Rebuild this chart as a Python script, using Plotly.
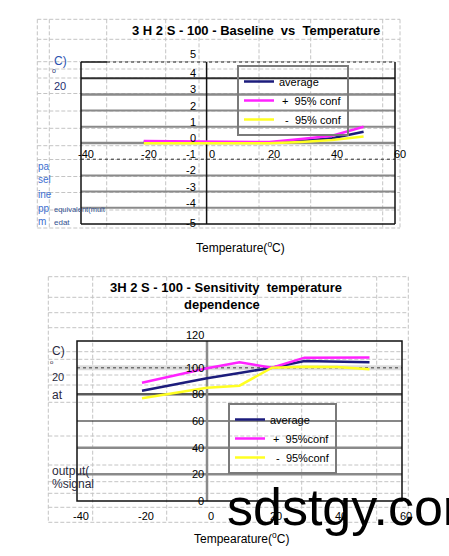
import plotly.graph_objects as go

W, H = 449, 556

# ---------------- data ----------------
temps_baseline = [-20, 0, 10, 20, 30, 40, 50]
baseline_avg = [0.08, 0.03, 0.02, 0.03, 0.12, 0.30, 0.70]
baseline_plus = [0.12, 0.08, 0.06, 0.06, 0.25, 0.45, 1.00]
baseline_minus = [-0.02, -0.03, -0.03, -0.02, 0.06, 0.18, 0.40]

temps_sens = [-20, 0, 10, 20, 30, 40, 50]
sens_avg = [82.7, 92.0, 96.0, 100.0, 105.0, 104.5, 104.0]
sens_plus = [88.7, 99.5, 104.0, 100.0, 107.5, 107.5, 107.7]
sens_minus = [77.0, 85.0, 86.5, 100.0, 100.7, 100.5, 98.8]

x_ticks = [-40, -20, 0, 20, 40, 60]
x_tick_labels = ["-40", "-20", "0", "20", "40", "60"]
baseline_ticks = [-5, -4, -3, -2, -1, 0, 1, 2, 3, 4, 5]
baseline_tick_labels = ["-5", "-4", "-3", "-2", "-1", "0", "1", "2", "3", "4", "5"]
sens_ticks = [0, 20, 40, 60, 80, 100, 120]
sens_tick_labels = ["0", "20", "40", "60", "80", "100", "120"]

series_names = ["average",
                "\u00a0+\u00a0\u00a095% conf",
                "\u00a0\u00a0-\u00a0\u00a095% conf"]
series_names2 = ["average",
                 "\u00a0+\u00a0\u00a095%conf",
                 "\u00a0\u00a0-\u00a0\u00a095%conf"]

title_top = "3 H 2 S - 100 - Baseline  vs  Temperature"
title_bot1 = "3H 2 S - 100 - Sensitivity  temperature"
title_bot2 = "dependence"
xtitle_top = "Temperature(<sup>o</sup>C)"
xtitle_bot = "Tempearature(<sup>o</sup>C)"

# ---------------- helpers ----------------
FONT = "Liberation Sans, Arial, sans-serif"
COLORS = ["#1c1c7c", "#ff22ff", "#ffff22"]


def px(x):
    return x / W


def py(y):
    return 1 - y / H


fig = go.Figure()

for name, ys, col in zip(series_names, [baseline_avg, baseline_plus, baseline_minus], COLORS):
    fig.add_trace(go.Scatter(x=temps_baseline, y=ys, name=name, mode="lines",
                             line=dict(color=col, width=2.5),
                             xaxis="x", yaxis="y", legend="legend"))

for name, ys, col in zip(series_names2, [sens_avg, sens_plus, sens_minus], COLORS):
    fig.add_trace(go.Scatter(x=temps_sens, y=ys, name=name, mode="lines",
                             line=dict(color=col, width=2.5),
                             xaxis="x2", yaxis="y2", legend="legend2"))

shapes = []

# spreadsheet dashed cell grid (background)
GRIDC = "#c4c4c4"
DASH = "4px,2px"
top_cols = [37.3, 49.3, 106.7, 165.7, 199, 259, 310.7, 382.7, 400]
top_rows = [19.3, 39.3, 61.7, 69, 78, 93.5, 111, 128.3, 145.7, 159.5, 176.5, 192.5, 210, 228]
bot_cols = [48.3, 92.7, 166.7, 257.3, 301.7, 376.7, 408.3]
bot_rows = [276.7, 297.3, 312.7, 327.7, 351.7, 359.3, 375, 385, 402.3, 436, 465, 481.7,
            493.3, 507.3, 522.3]


def cells(cols, rows):
    for cx in cols:
        shapes.append(dict(type="line", xref="paper", yref="paper", layer="below",
                           x0=px(cx), x1=px(cx), y0=py(rows[0]), y1=py(rows[-1]),
                           line=dict(color=GRIDC, width=1, dash=DASH)))
    for ry in rows:
        shapes.append(dict(type="line", xref="paper", yref="paper", layer="below",
                           x0=px(cols[0]), x1=px(cols[-1]), y0=py(ry), y1=py(ry),
                           line=dict(color=GRIDC, width=1, dash=DASH)))


cells(top_cols, top_rows)
cells(bot_cols, bot_rows)


def hline(ax, v, color, width, dash="solid"):
    shapes.append(dict(type="line", xref=f"{ax[0]} domain", yref=ax[1], layer="below",
                       x0=0, x1=1, y0=v, y1=v,
                       line=dict(color=color, width=width, dash=dash)))


def vline(ax, v, color, width, dash="solid"):
    shapes.append(dict(type="line", xref=ax[0], yref=f"{ax[1]} domain", layer="below",
                       x0=v, x1=v, y0=0, y1=1,
                       line=dict(color=color, width=width, dash=dash)))


GRAY = "#8a8a8a"
# top chart gridlines
top_style = {4: ("#303030", 2, "solid"), 3: (GRAY, 2.5, "solid"), 2: (GRAY, 2, "solid"),
             1: (GRAY, 2, "solid"), 0: (GRAY, 2.5, "solid"), -1: ("#303030", 1, "dot"),
             -2: (GRAY, 2, "solid"), -3: (GRAY, 2, "solid"), -4: (GRAY, 2, "solid")}
for v in baseline_ticks:
    if v in top_style:
        c, w, d = top_style[v]
        hline(("x", "y"), v, c, w, d)
vline(("x", "y"), 0, "#111111", 1.5)
# top chart frame
for (x0, y0, x1, y1, d) in [(0, 0, 0, 1, "solid"), (0, 0, 1, 0, "solid"), (1, 0, 1, 1, "solid"),
                             (0, 1, 0.083, 1, "solid"), (0.083, 1, 1, 1, "dot")]:
    shapes.append(dict(type="line", xref="x domain", yref="y domain", layer="below",
                       x0=x0, x1=x1, y0=y0, y1=y1,
                       line=dict(color="#111111", width=1.5 if d == "solid" else 1, dash=d)))

# bottom chart gridlines
hline(("x2", "y2"), 100, "#dcdcdc", 5)
hline(("x2", "y2"), 100, "#707070", 1.5, "dot")
bot_style = {80: ("#5a5a5a", 2.5, "solid"), 60: ("#111111", 1.2, "solid"),
             40: (GRAY, 2.5, "solid"), 20: (GRAY, 2.5, "solid")}
for v in sens_ticks:
    if v in bot_style:
        c, w, d = bot_style[v]
        hline(("x2", "y2"), v, c, w, d)
vline(("x2", "y2"), 0, GRAY, 2.5)
shapes.append(dict(type="rect", xref="x2 domain", yref="y2 domain", layer="below",
                   x0=0, x1=1, y0=0, y1=1, line=dict(color="#111111", width=1.5)))

# ---------------- annotations ----------------
ann = []


def text(t, x, y, size=12, color="#000000", bold=False, xanchor="left", family=FONT):
    ann.append(dict(text=f"<b>{t}</b>" if bold else t, x=px(x), y=py(y), xref="paper",
                    yref="paper", xanchor=xanchor, yanchor="middle", showarrow=False,
                    font=dict(family=family, size=size, color=color)))


TICKFONT = dict(family=FONT, size=11, color="#000000")

# tick labels placed on the crossing axes (Excel style)
for v, lab in zip(baseline_ticks, baseline_tick_labels):
    shift = 8 if v == max(baseline_ticks) else (1 if v == min(baseline_ticks) else 5)
    ann.append(dict(text=lab, xref="paper", x=px(198), yref="y", y=v, xanchor="right",
                    yanchor="middle", yshift=shift, showarrow=False, font=TICKFONT))
for v, lab in zip(x_ticks, x_tick_labels):
    ann.append(dict(text=lab, xref="x", x=v, yref="paper", y=py(154), xanchor="center",
                    yanchor="middle", xshift=5, showarrow=False, font=TICKFONT))
for v, lab in zip(sens_ticks, sens_tick_labels):
    shift = 6 if v == max(sens_ticks) else 0
    ann.append(dict(text=lab, xref="paper", x=px(206), yref="y2", y=v, xanchor="right",
                    yanchor="middle", yshift=shift, showarrow=False, font=TICKFONT))
for v, lab in zip(x_ticks, x_tick_labels):
    ann.append(dict(text=lab, xref="x2", x=v, yref="paper", y=py(516), xanchor="center",
                    yanchor="middle", xshift=4, showarrow=False, font=TICKFONT))

text(title_top, 255.5, 30.7, 13, bold=True, xanchor="center")
text(title_bot1, 226, 287.3, 13, bold=True, xanchor="center")
text(title_bot2, 222, 304.3, 13, bold=True, xanchor="center")
text(xtitle_top, 240.5, 246.5, 12, xanchor="center")
text(xtitle_bot, 241.7, 537.5, 12, xanchor="center")

# stray spreadsheet cell fragments (top)
BLUE = "#2a52b0"
NAVY = "#1f2f70"
text("C)", 52, 61.5, 12, BLUE)
text("o", 49.5, 71, 7, NAVY)
text("20", 52, 85.5, 11, NAVY)
for t, yy in [("pa", 166.5), ("sel", 179.5), ("ine", 194.5), ("pp", 208), ("m", 221.5)]:
    text(t, 35.5, yy, 10, "#3d6fd0")
text("equivalent(mult", 52, 209.5, 7.5, "#33518f")
text("edat", 52, 222.5, 8, "#33518f")

# stray cell fragments (bottom)
DARK = "#2a2a40"
text("C)", 49.5, 351, 12, DARK)
text("o", 48, 362, 6, DARK)
text("20", 49.5, 376.5, 11, DARK)
text("at", 49.5, 395, 12, DARK)
text("output(", 49.5, 471, 12, DARK)
text("%signal", 49.5, 483.5, 12, DARK)

# watermark
text("sdstgy.cor", 225, 507, 52, "#000000")

axis_common = dict(showgrid=False, zeroline=False, showline=False, ticks="",
                   showticklabels=False, automargin=False, fixedrange=True)

legend_common = dict(xanchor="left", yanchor="top", bgcolor="rgba(255,255,255,0)",
                     bordercolor="#7a7a7a", borderwidth=2, itemwidth=30,
                     font=dict(family=FONT, size=11, color="#000000"))

fig.update_layout(
    width=W, height=H, autosize=False,
    margin=dict(l=0, r=0, t=0, b=0, pad=0, autoexpand=False),
    paper_bgcolor="white", plot_bgcolor="rgba(0,0,0,0)",
    font=dict(family=FONT),
    showlegend=True,
    xaxis=dict(domain=[px(81), px(395)], range=[-40, 60], anchor="y",
               tickvals=x_ticks, ticktext=x_tick_labels, **axis_common),
    yaxis=dict(domain=[py(224), py(62)], range=[-5, 5], anchor="x",
               tickvals=baseline_ticks, ticktext=baseline_tick_labels, **axis_common),
    xaxis2=dict(domain=[px(77), px(402)], range=[-40, 60], anchor="y2",
                tickvals=x_ticks, ticktext=x_tick_labels, **axis_common),
    yaxis2=dict(domain=[py(501), py(341)], range=[0, 120], anchor="x2",
                tickvals=sens_ticks, ticktext=sens_tick_labels, **axis_common),
    legend=dict(x=px(237), y=py(65), **legend_common),
    legend2=dict(x=px(228), y=py(403), **legend_common),
    shapes=shapes,
    annotations=ann,
)

fig.write_html("out.html", config={"displayModeBar": False},
               post_script="document.body.style.margin='0px';")
